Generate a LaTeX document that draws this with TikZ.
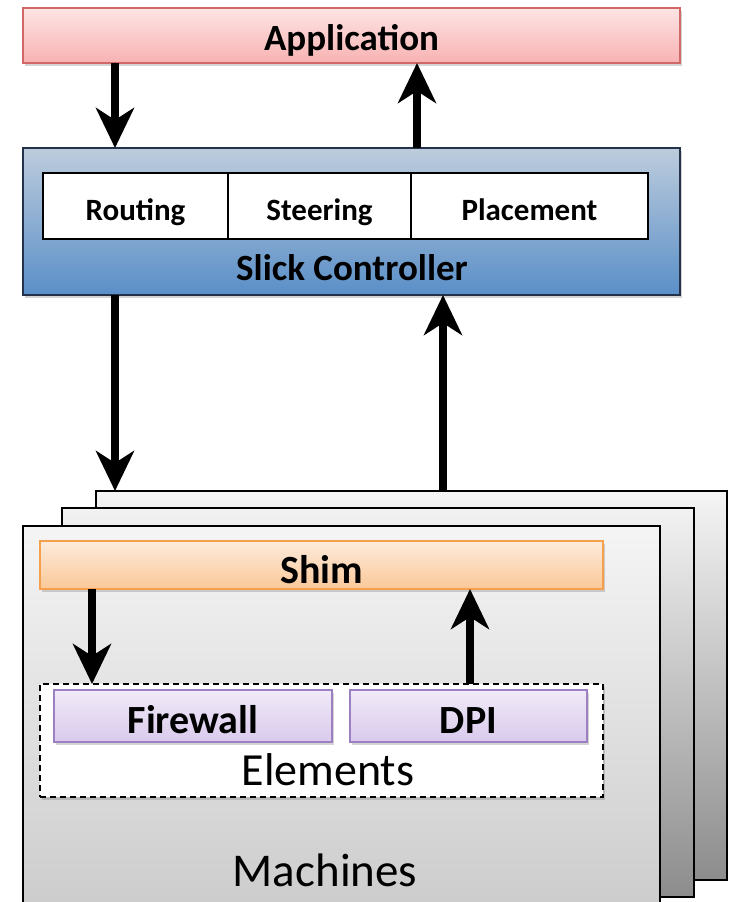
\documentclass[tikz,border=0pt]{standalone}
\usepackage{fontspec}
\setmainfont{Carlito}
\usetikzlibrary{arrows.meta,shadows,calc}

\newcommand\fsz[1]{\fontsize{#1pt}{#1pt}\selectfont}

\definecolor{appTop}{HTML}{FDE4E4}
\definecolor{appBot}{HTML}{F8B2B2}
\definecolor{appLine}{HTML}{D06868}
\definecolor{ctlTop}{HTML}{BDCCDC}
\definecolor{ctlBot}{HTML}{5A8FC8}
\definecolor{ctlLine}{HTML}{24324A}
\definecolor{shimTop}{HTML}{FDEBDC}
\definecolor{shimBot}{HTML}{FBC898}
\definecolor{shimLine}{HTML}{F4A04C}
\definecolor{elTop}{HTML}{F1EAF8}
\definecolor{elBot}{HTML}{D9CAEC}
\definecolor{elLine}{HTML}{9C80C2}

\tikzset{
  box/.style={rectangle, inner sep=0pt, outer sep=0pt},
  softshadow/.style={drop shadow={shadow xshift=1.5pt, shadow yshift=-3pt, opacity=0.28, fill=black!60}},
  appbox/.style={box, draw=appLine, line width=1.2pt, top color=appTop, bottom color=appBot, softshadow,
                 font=\fsz{37}\bfseries, text height=30pt, text depth=1pt},
  ctlbox/.style={box, draw=ctlLine, line width=1.4pt, top color=ctlTop, bottom color=ctlBot, softshadow},
  modbox/.style={box, draw=black, line width=1.3pt, fill=white, font=\fsz{31}\bfseries,
                 text height=29pt, text depth=1pt},
  machine/.style={box, draw=black, line width=1.4pt},
  shimbox/.style={box, draw=shimLine, line width=1.2pt, top color=shimTop, bottom color=shimBot, softshadow,
                  font=\fsz{40}\bfseries, text height=37pt, text depth=1pt},
  elbox/.style={box, draw=elLine, line width=1.2pt, top color=elTop, bottom color=elBot, softshadow,
                font=\fsz{40}\bfseries, text height=35pt, text depth=1pt},
  groupbox/.style={box, draw=black, line width=1.2pt, dash pattern=on 6pt off 4pt, fill=white, softshadow},
  flow/.style={line width=7.5pt, -{Stealth[length=40pt,width=38pt,inset=12pt]}},
}

\begin{document}
\begin{tikzpicture}[x=1pt,y=-1pt]
\useasboundingbox (0,0) rectangle (733,902);
\fill[white] (0,0) rectangle (733,902);

% stack of machines, back to front
\node[machine, top color=black!4, bottom color=black!45, minimum width=631pt, minimum height=389pt] (m3) at (411.5,685.5) {};
\node[machine, top color=black!5, bottom color=black!45, minimum width=632pt, minimum height=389pt] (m2) at (378,702.5) {};
\node[machine, top color=black!4, bottom color=black!20, minimum width=637pt, minimum height=384pt] (m1) at (341.5,718) {};

% application layer
\node[appbox, minimum width=657pt, minimum height=55pt] (app) at (351.5,35.5) {Application};

% controller with its three modules
\node[ctlbox, minimum width=657pt, minimum height=147pt] (ctl) at (351.5,221.5) {};
\node[modbox, minimum width=185pt, minimum height=66pt] (routing) at (135.5,206) {Routing};
\node[modbox, minimum width=183pt, minimum height=66pt] (steering) at (319.5,206) {Steering};
\node[modbox, minimum width=237pt, minimum height=66pt] (placement) at (529.5,206) {Placement};
\node[font=\fsz{37}\bfseries] (ctllabel) at (352,268) {Slick Controller};

% shim and elements on the front machine
\node[shimbox, minimum width=563pt, minimum height=48pt] (shim) at (321.5,565) {Shim};
\node[groupbox, minimum width=563pt, minimum height=113pt] (elements) at (321.5,740.5) {};
\node[elbox, minimum width=278pt, minimum height=52pt] (fw) at (193,716) {Firewall};
\node[elbox, minimum width=237pt, minimum height=52pt] (dpi) at (468.5,716) {DPI};
\node[font=\fsz{46}] (ellabel) at (328,770) {Elements};
\node[font=\fsz{47}] (mlabel) at (325,870) {Machines};

% arrow columns
\coordinate (c1) at (115,0);
\coordinate (c2) at (417,0);
\coordinate (c3) at (443,0);
\coordinate (c4) at (92,0);
\coordinate (c5) at (470,0);

\draw[flow] (app.south -| c1) -- (ctl.north -| c1);
\draw[flow] (ctl.north -| c2) -- (app.south -| c2);
\draw[flow] (ctl.south -| c1) -- (m3.north -| c1);
\draw[flow] (m3.north -| c3) -- (ctl.south -| c3);
\draw[flow] (shim.south -| c4) -- (elements.north -| c4);
\draw[flow] (elements.north -| c5) -- (shim.south -| c5);
\end{tikzpicture}
\end{document}
